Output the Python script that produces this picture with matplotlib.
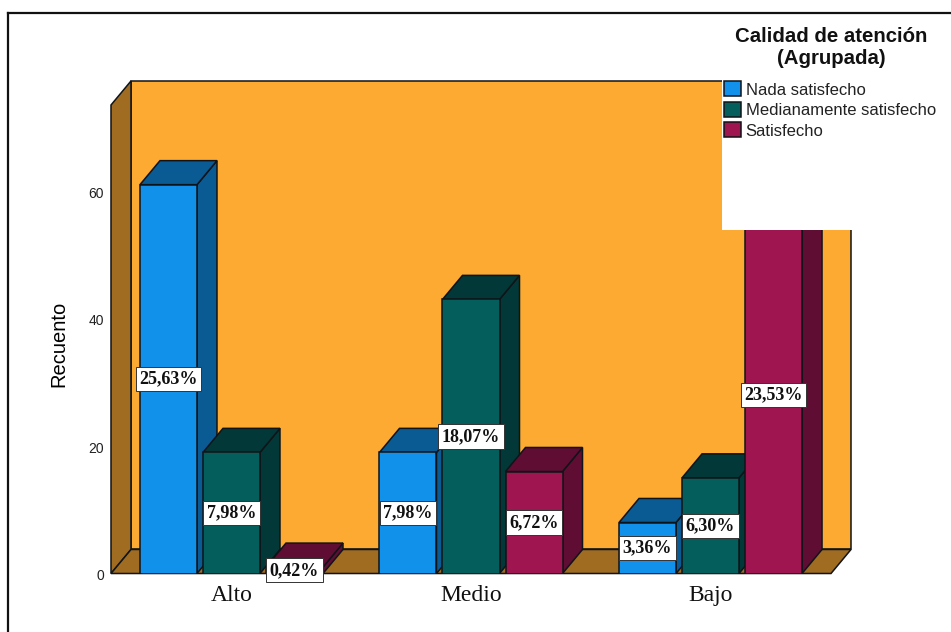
import matplotlib.pyplot as plt
from matplotlib.lines import Line2D
from matplotlib.patches import Patch, Polygon, Rectangle
from matplotlib.transforms import ScaledTranslation

categories = ["Alto", "Medio", "Bajo"]
series_names = ["Nada satisfecho", "Medianamente satisfecho", "Satisfecho"]
nada = [61, 19, 8]
medianamente = [19, 43, 15]
satisfecho = [1, 16, 56]
nada_labels = ["25,63%", "7,98%", "3,36%"]
medianamente_labels = ["7,98%", "18,07%", "6,30%"]
satisfecho_labels = ["0,42%", "6,72%", "23,53%"]
y_ticks = [0, 20, 40, 60]

front_colors = ["#1291EA", "#045E5C", "#9E154F"]
side_colors = ["#0A5A94", "#023838", "#5F0D33"]
wall_color = "#FDAA33"
floor_color = "#9F6C22"
edge = "#101418"

W, H = 951, 632
fig = plt.figure(figsize=(W / 100, H / 100), dpi=100, facecolor="white")

# front plane of the 3D box, pixels converted to figure fractions
ax = fig.add_axes([111 / W, 1 - 573.5 / H, 720 / W, 468.5 / H])
ax.set_xlim(-0.503, 2.503)
ax.set_ylim(0, 73.5)
ax.patch.set_visible(False)
for s in ax.spines.values():
    s.set_visible(False)

# depth of the fake 3D, in data units
dx = 20 / 239.5
dy = 3.77
x0, x1 = ax.get_xlim()
y1 = ax.get_ylim()[1]

# back wall, left wall and floor
ax.add_patch(Rectangle((x0 + dx, dy), x1 - x0, y1, fc=wall_color, ec=edge, lw=1.1, zorder=1,
                       clip_on=False))
ax.add_patch(Polygon([(x0, 0), (x0 + dx, dy), (x0 + dx, y1 + dy), (x0, y1)],
                     fc=floor_color, ec=edge, lw=1.1, zorder=1.1, clip_on=False))
ax.add_patch(Polygon([(x0, 0), (x1, 0), (x1 + dx, dy), (x0 + dx, dy)],
                     fc=floor_color, ec=edge, lw=1.1, zorder=1.1, clip_on=False))

bar_w = 57 / 239.5
step = 63 / 239.5
all_values = [nada, medianamente, satisfecho]
all_labels = [nada_labels, medianamente_labels, satisfecho_labels]

z = 2
for g in range(len(categories)):
    for i, vals in enumerate(all_values):
        v = vals[g]
        left = g + (i - 1) * step - bar_w / 2
        right = left + bar_w
        # side and top faces first, front face over them
        ax.add_patch(Polygon([(right, 0), (right + dx, dy), (right + dx, v + dy), (right, v)],
                             fc=side_colors[i], ec=edge, lw=1.1, zorder=z, clip_on=False))
        ax.add_patch(Polygon([(left, v), (right, v), (right + dx, v + dy), (left + dx, v + dy)],
                             fc=side_colors[i], ec=edge, lw=1.1, zorder=z, clip_on=False))
        ax.bar(left + bar_w / 2, v, width=bar_w, color=front_colors[i], edgecolor=edge,
               linewidth=1.1, zorder=z + 0.1)
        z += 0.2

# white block that sits behind the legend
ax.add_patch(Rectangle((2.047, 53.9), 0.55, 24.5, fc="white", ec="none", zorder=20, clip_on=False))

for g in range(len(categories)):
    for i, vals in enumerate(all_values):
        ax.text(g + (i - 1) * step, vals[g] / 2, all_labels[i][g], ha="center", va="center",
                family="Liberation Serif", weight="bold", fontsize=13, color="#111111", zorder=30,
                bbox=dict(boxstyle="square,pad=0.2", fc="white", ec="#333333", lw=0.7))

ax.set_xticks(range(len(categories)))
ax.set_xticklabels(categories, family="Liberation Serif", fontsize=17, color="#111111")
ax.set_yticks(y_ticks)
ax.set_yticklabels([str(t) for t in y_ticks], family="Liberation Sans", fontsize=10, color="#222222")
ax.tick_params(axis="both", length=0)
ax.tick_params(axis="x", pad=8)
ax.tick_params(axis="y", pad=5)
for lab in ax.get_yticklabels():
    lab.set_transform(lab.get_transform() + ScaledTranslation(0, -1 / 72, fig.dpi_scale_trans))

ax.set_ylabel("Recuento", family="Liberation Sans", fontsize=14.5, color="#000000")
ax.yaxis.set_label_coords(-43 / 720, (573.5 - 344) / 468.5)

handles = [Patch(fc=c, ec=edge, lw=1.1) for c in front_colors]
leg = fig.legend(handles, series_names, loc="upper left", bbox_to_anchor=(724 / W, 1 - 81.5 / H),
                 frameon=False, prop=dict(family="Liberation Sans", size=12),
                 handlelength=1.0, handleheight=1.0, handletextpad=0.3, labelspacing=0.26,
                 borderpad=0, borderaxespad=0)
leg.set_zorder(40)
for t in leg.get_texts():
    t.set_color("#222222")

fig.text(831 / W, 1 - 48 / H, "Calidad de atención\n(Agrupada)", ha="center", va="center",
         family="Liberation Sans", weight="bold", fontsize=14.7, linespacing=1.2, color="#111111")

# outer frame, only top and left edges are inside the image
fig.add_artist(Line2D([8 / W, 8 / W], [0, 1 - 13 / H], color="#111111", lw=1.6))
fig.add_artist(Line2D([8 / W, 1], [1 - 13 / H, 1 - 13 / H], color="#111111", lw=1.6))

fig.savefig("out.png", dpi=100)
